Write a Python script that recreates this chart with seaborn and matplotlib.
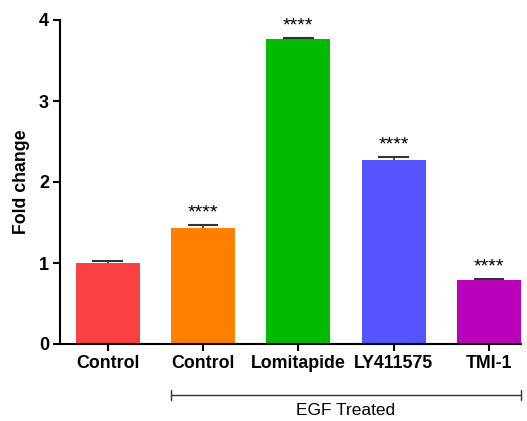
import matplotlib
matplotlib.use("Agg")
import matplotlib.pyplot as plt
import seaborn as sns
import pandas as pd

# Data
groups = ["Control", "EGF Control", "Lomitapide", "LY411575", "TMI-1"]
tick_labels = ["Control", "Control", "Lomitapide", "LY411575", "TMI-1"]
fold_change = [1.00, 1.43, 3.77, 2.27, 0.79]
sem = [0.02, 0.04, 0.01, 0.04, 0.01]
significance = ["", "****", "****", "****", "****"]
colors = ["#FA4043", "#FF7F00", "#00BB00", "#5555FF", "#BB00BB"]

sns.set_style("ticks")
plt.rcParams["font.family"] = ["Liberation Sans", "DejaVu Sans"]
plt.rcParams["text.color"] = "black"
plt.rcParams["axes.labelcolor"] = "black"
plt.rcParams["xtick.color"] = "black"
plt.rcParams["ytick.color"] = "black"

df = pd.DataFrame({"group": groups, "value": fold_change})

fig = plt.figure(figsize=(5.27, 4.21), dpi=100)
ax = fig.add_axes([60 / 527, 77 / 421, 461 / 527, 324 / 421])

bar_w = 0.67
sns.barplot(data=df, x="group", y="value", hue="group", palette=colors,
            order=groups, hue_order=groups, width=bar_w, dodge=False,
            errorbar=None, legend=False, ax=ax, saturation=1,
            edgecolor="none")

# Upper-only error bars (stem + top cap)
xs = list(range(len(groups)))
tops = [v + e for v, e in zip(fold_change, sem)]
cap_half = 0.16
ax.vlines(xs, fold_change, tops, color="#333333", lw=1.2, zorder=3)
ax.hlines(tops, [x - cap_half for x in xs], [x + cap_half for x in xs],
          color="#333333", lw=1.5, zorder=3)

for x, t, s in zip(xs, tops, significance):
    if s:
        ax.text(x, t + 0.04, s, ha="center", va="bottom", fontsize=14,
                color="black")

ax.set_xlim(-0.5, len(groups) - 1 + bar_w / 2)
ax.set_ylim(0, 4)
ax.set_yticks([0, 1, 2, 3, 4])
ax.set_xticks(xs)
ax.set_xticklabels(tick_labels, fontweight="bold", fontsize=12.8)
for lbl in ax.get_yticklabels():
    lbl.set_fontweight("bold")
    lbl.set_fontsize(13)
ax.set_xlabel("")
ax.set_ylabel("Fold change", fontweight="bold", fontsize=12.8, labelpad=6)

for side in ["top", "right"]:
    ax.spines[side].set_visible(False)
for side in ["left", "bottom"]:
    ax.spines[side].set_linewidth(1.5)
    ax.spines[side].set_color("black")
ax.tick_params(axis="both", width=1.5, length=5, color="black", pad=3)

# Bracket under the EGF-treated groups
trans = ax.get_xaxis_transform()
x0, x1 = 1 - bar_w / 2, len(groups) - 1 + bar_w / 2
yb = -0.157
ax.plot([x0, x1], [yb, yb], color="#333333", lw=1.0, transform=trans,
        clip_on=False)
for xe in (x0, x1):
    ax.plot([xe, xe], [yb - 0.015, yb + 0.015], color="#333333", lw=1.0,
            transform=trans, clip_on=False)
ax.text((x0 + x1) / 2, yb - 0.025, "EGF Treated", ha="center", va="top",
        fontsize=12.5, transform=trans)

fig.savefig("out.png", dpi=100)
